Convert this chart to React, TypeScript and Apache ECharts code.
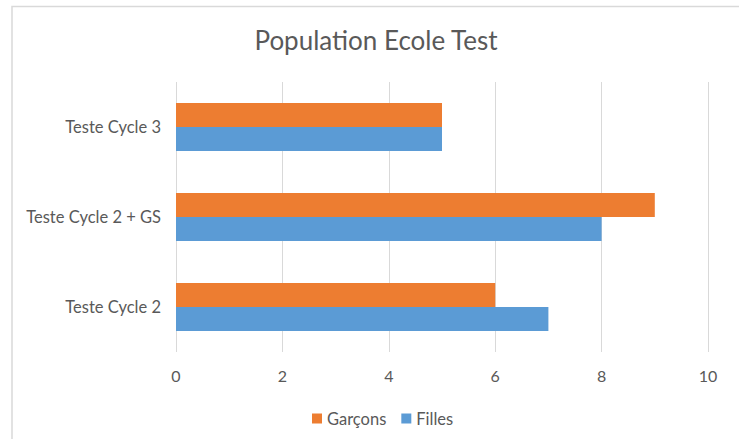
import React, { useEffect, useRef } from "react";
import * as echarts from "echarts";

const categories = ["Teste Cycle 2", "Teste Cycle 2 + GS", "Teste Cycle 3"];
const filles = [7, 8, 5];
const garcons = [6, 9, 5];
const xTicks = { min: 0, max: 10, interval: 2 };

export default function App() {
  const ref = useRef<HTMLDivElement>(null);
  useEffect(() => {
    if (!ref.current) return;
    const chart = echarts.init(ref.current, undefined, { renderer: "svg" });
    const font = "Lato, 'Open Sans', sans-serif";
    chart.setOption({
      animation: false,
      backgroundColor: "#ffffff",
      textStyle: { fontFamily: font },
      title: {
        text: "Population Ecole Test",
        left: 371,
        textAlign: "center",
        top: 22,
        textStyle: { fontFamily: font, fontSize: 26, fontWeight: "normal", color: "#595959" },
      },
      graphic: [
        {
          type: "rect",
          shape: { x: 12, y: 6.5, width: 1000, height: 1000 },
          style: { fill: "none", stroke: "#d9d9d9", lineWidth: 1.5 },
          silent: true,
        },
      ],
      legend: {
        data: ["Garçons", "Filles"],
        left: 307,
        top: 405,
        icon: "rect",
        itemWidth: 10,
        itemHeight: 10,
        itemGap: 15,
        textStyle: { fontFamily: font, fontSize: 16.5, color: "#595959" },
      },
      grid: { left: 176, right: 31, top: 82, bottom: 87, containLabel: false },
      xAxis: {
        type: "value",
        min: xTicks.min,
        max: xTicks.max,
        interval: xTicks.interval,
        axisLine: { show: false },
        axisTick: { show: false },
        splitLine: { show: true, lineStyle: { color: "#d9d9d9", width: 1 } },
        axisLabel: { fontFamily: font, fontSize: 16, color: "#595959", margin: 15 },
      },
      yAxis: {
        type: "category",
        data: categories,
        axisLine: { show: false },
        axisTick: { show: false },
        axisLabel: { fontFamily: font, fontSize: 16.5, color: "#595959", margin: 15 },
      },
      series: [
        {
          name: "Garçons",
          type: "bar",
          data: garcons,
          barWidth: 24,
          barGap: "0%",
          itemStyle: { color: "#ED7D31" },
        },
        {
          name: "Filles",
          type: "bar",
          data: filles,
          barWidth: 24,
          barGap: "0%",
          itemStyle: { color: "#5B9BD5" },
        },
      ],
    });
    return () => chart.dispose();
  }, []);
  return (
    <div
      ref={ref}
      style={{ position: "fixed", left: 0, top: 0, width: 739, height: 439 }}
    />
  );
}
